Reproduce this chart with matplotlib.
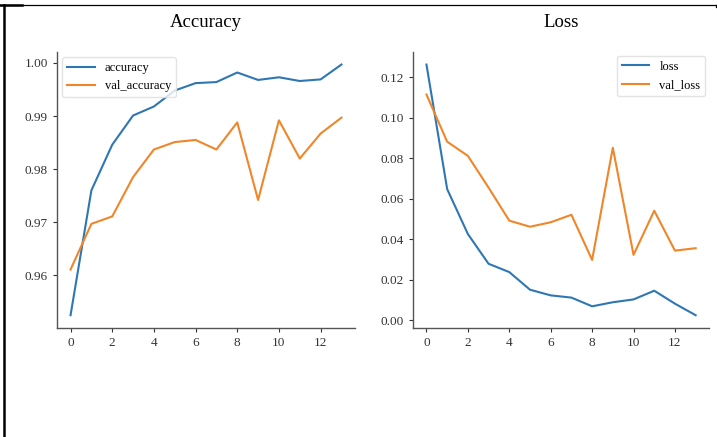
import matplotlib
matplotlib.use("Agg")
import matplotlib.pyplot as plt
from matplotlib.lines import Line2D

plt.rcParams['font.family'] = ['Liberation Serif', 'DejaVu Serif']

epochs = list(range(14))

accuracy = [0.9525, 0.9760, 0.9846, 0.9901, 0.9918, 0.9948, 0.9962,
            0.9964, 0.9982, 0.9968, 0.9973, 0.9966, 0.9969, 0.9997]
val_accuracy = [0.9611, 0.9697, 0.9711, 0.9785, 0.9837, 0.9851, 0.9855,
                0.9837, 0.9888, 0.9742, 0.9892, 0.9820, 0.9867, 0.9897]

loss = [0.1263, 0.0648, 0.0426, 0.0279, 0.0238, 0.0151, 0.0123,
        0.0112, 0.0069, 0.0089, 0.0103, 0.0146, 0.0082, 0.0025]
val_loss = [0.1115, 0.0882, 0.0812, 0.0655, 0.0492, 0.0462, 0.0484,
            0.0521, 0.0298, 0.0852, 0.0323, 0.0541, 0.0344, 0.0356]

fig = plt.figure(figsize=(7.17, 4.37), dpi=100)
ax1 = fig.add_axes([0.0795, 0.250, 0.4156, 0.631])
ax2 = fig.add_axes([0.576, 0.250, 0.413, 0.631])


def style(ax):
    for s in ['top', 'right']:
        ax.spines[s].set_visible(False)
    for s in ['left', 'bottom']:
        ax.spines[s].set_color('#555555')
        ax.spines[s].set_linewidth(1.0)
    ax.tick_params(labelsize=9.5, length=3, width=0.8, colors='#333333')
    ax.set_xticks(range(0, 14, 2))


ax1.plot(epochs, accuracy, color='#2f77b3', lw=1.5, label='accuracy')
ax1.plot(epochs, val_accuracy, color='#f0862a', lw=1.5, label='val_accuracy')
ax1.set_title('Accuracy', fontsize=13.5, pad=18)
ax1.set_yticks([0.96, 0.97, 0.98, 0.99, 1.00])
ax1.legend(loc='upper left', fontsize=9, edgecolor='#dddddd',
           borderaxespad=0.4, handlelength=2.2)
style(ax1)

ax2.plot(epochs, loss, color='#2f77b3', lw=1.5, label='loss')
ax2.plot(epochs, val_loss, color='#f0862a', lw=1.5, label='val_loss')
ax2.set_title('Loss', fontsize=13.5, pad=18)
ax2.set_yticks([0.00, 0.02, 0.04, 0.06, 0.08, 0.10, 0.12])
ax2.legend(loc='upper right', fontsize=9, edgecolor='#dddddd',
           borderaxespad=0.3, handlelength=2.2)
style(ax2)

# table-cell border around the picture
fig.add_artist(Line2D([0.0056, 0.0056], [0.0, 0.9897], color='black', lw=1.8))
fig.add_artist(Line2D([0.0, 0.998], [0.9897, 0.9897], color='black', lw=0.9))
fig.add_artist(Line2D([0.0, 0.031], [0.9880, 0.9880], color='black', lw=1.8))
fig.add_artist(Line2D([0.998, 0.998], [0.9897, 0.983], color='black', lw=0.9))

fig.savefig('out.png', dpi=100)
